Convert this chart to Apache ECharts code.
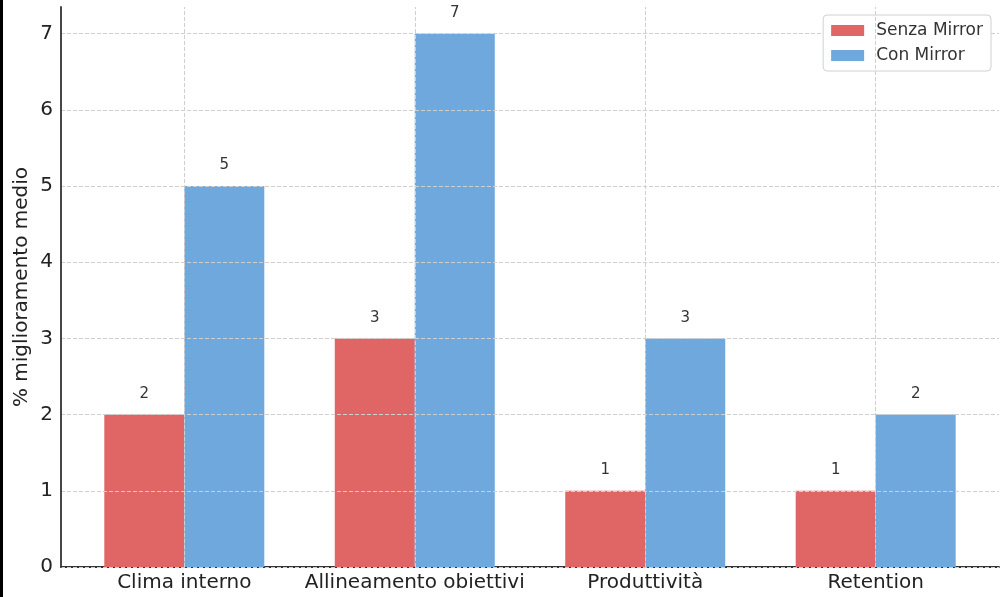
<!DOCTYPE html>
<html>
<head>
<meta charset="utf-8">
<script src="https://cdn.jsdelivr.net/npm/echarts@6/dist/echarts.min.js"></script>
<style>
html,body{margin:0;padding:0;background:#fff;}
#c{width:1002px;height:597px;}
</style>
</head>
<body>
<div id="c"></div>
<script>
const categories = ['Clima interno', 'Allineamento obiettivi', 'Produttività', 'Retention'];
const senzaMirror = [2, 3, 1, 1];
const conMirror = [5, 7, 3, 2];
const yTicks = [0, 1, 2, 3, 4, 5, 6, 7];
const seriesNames = ['Senza Mirror', 'Con Mirror'];
const yName = '% miglioramento medio';

const FONT = 'DejaVu Sans';
const catIdx = categories.map((_, i) => i);

const chart = echarts.init(document.getElementById('c'), null, {renderer: 'canvas'});
const gridLine = {color: '#cfcfcf', width: 1, type: [4, 2]};
const barLabel = {show: true, position: 'top', distance: 13, fontFamily: FONT, fontSize: 15, color: '#333'};
chart.setOption({
  backgroundColor: '#ffffff',
  animation: false,
  textStyle: {fontFamily: FONT},
  grid: {left: 61, right: 3, top: 7, bottom: 30, containLabel: false},
  legend: {
    orient: 'vertical',
    right: 11,
    top: 15,
    padding: [7, 8, 7, 8],
    itemWidth: 33,
    itemHeight: 11,
    itemGap: 8,
    icon: 'rect',
    backgroundColor: '#ffffff',
    borderColor: '#d0d0d0',
    borderWidth: 1,
    borderRadius: 4,
    textStyle: {fontFamily: FONT, fontSize: 17, color: '#333', padding: [0, 0, 0, 7]},
    data: seriesNames
  },
  xAxis: {
    type: 'value',
    min: -0.535,
    max: 3.535,
    axisLine: {show: true, lineStyle: {color: '#333', width: 1.8}},
    axisTick: {show: false},
    splitLine: {show: false},
    axisLabel: {
      customValues: catIdx,
      formatter: v => categories[Math.round(v)],
      fontFamily: FONT, fontSize: 20, color: '#222', margin: 6
    }
  },
  yAxis: {
    type: 'value',
    min: 0,
    max: 7.35,
    interval: 1,
    z: 3,
    name: yName,
    nameLocation: 'middle',
    nameGap: 29,
    nameMoveOverlap: false,
    nameTextStyle: {fontFamily: FONT, fontSize: 20, color: '#222'},
    axisLine: {show: true, onZero: false, lineStyle: {color: '#333', width: 1.8}},
    axisTick: {show: false},
    axisLabel: {
      customValues: yTicks,
      fontFamily: FONT, fontSize: 20, color: '#222', margin: 8
    },
    splitLine: {show: true, showMaxLine: false, lineStyle: gridLine}
  },
  series: [
    {
      name: seriesNames[0],
      type: 'bar',
      data: senzaMirror.map((v, i) => [i, v]),
      barWidth: 80,
      barGap: '0%',
      itemStyle: {color: '#e06666'},
      label: barLabel
    },
    {
      name: seriesNames[1],
      type: 'bar',
      data: conMirror.map((v, i) => [i, v]),
      barWidth: 80,
      barGap: '0%',
      itemStyle: {color: '#6fa8dc'},
      label: barLabel
    },
    {
      name: 'grid-x',
      type: 'line',
      data: [],
      silent: true,
      markLine: {
        silent: true,
        symbol: ['none', 'none'],
        z: 4,
        label: {show: false},
        lineStyle: gridLine,
        emphasis: {disabled: true},
        data: catIdx.map(i => ({xAxis: i}))
      }
    }
  ],
  graphic: [
    {type: 'rect', left: 0, top: 0, shape: {width: 3, height: 597}, style: {fill: '#000'}, z: 100}
  ]
});
</script>
</body>
</html>
